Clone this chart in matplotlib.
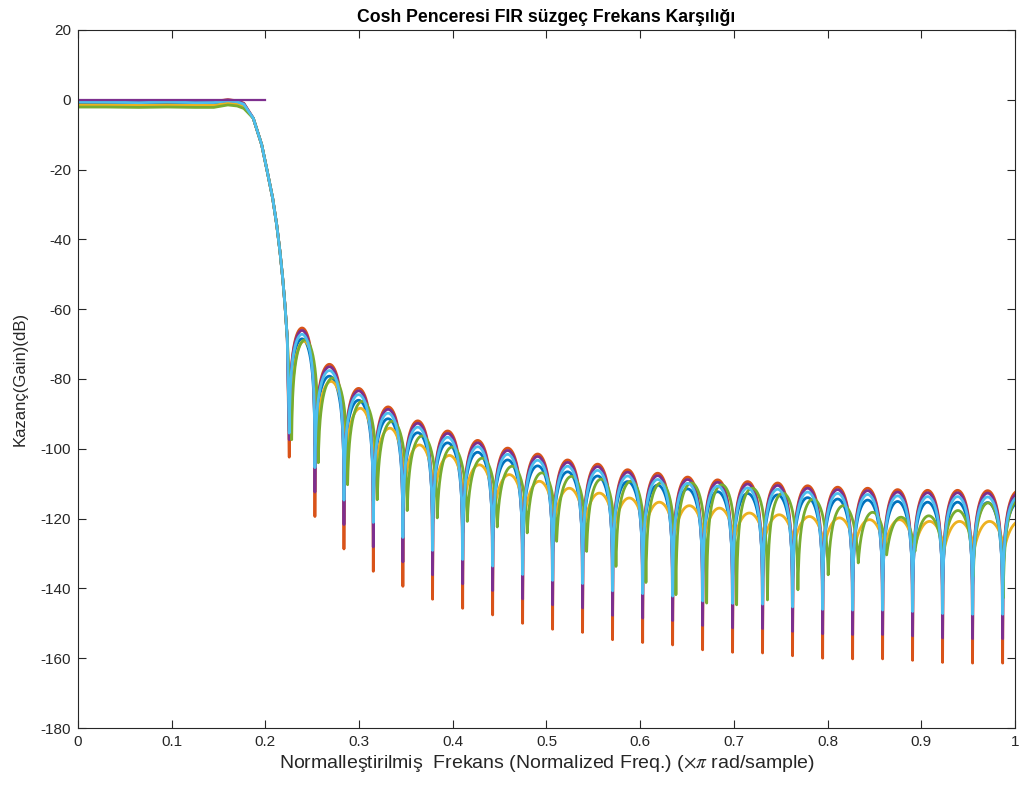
import numpy as np
import matplotlib
matplotlib.use("Agg")
import matplotlib.pyplot as plt

# ---------------- data ----------------
# pass band (normalized freq, dB)
pb_f = [0.0, 0.03, 0.065, 0.095, 0.125, 0.145, 0.16, 0.17, 0.177]
pb_blue   = [-1.0, -1.05, -1.2, -1.0, -1.2, -1.15, -0.6, -0.9, -1.6]
pb_red    = [-0.25, -0.3, -0.55, -0.25, -0.55, -0.45, 0.0, -0.3, -1.0]
pb_yellow = [-1.5, -1.5, -1.6, -1.5, -1.6, -1.6, -1.0, -1.3, -2.0]
pb_purple = [-0.3, -0.35, -0.6, -0.3, -0.6, -0.5, -0.05, -0.35, -1.1]
pb_green  = [-2.1, -2.1, -2.2, -2.1, -2.2, -2.2, -1.5, -1.8, -2.5]
pb_lblue  = [-0.6, -0.65, -0.85, -0.6, -0.85, -0.8, -0.3, -0.6, -1.3]

# transition band (shared by all curves)
tr_f  = [0.1871, 0.1961, 0.2020, 0.2078, 0.2121, 0.2156, 0.2185, 0.2209, 0.2234]
tr_db = [-5.3, -12.9, -20.5, -28.2, -35.8, -43.5, -51.1, -58.7, -68.3]

# stop band nulls (last entry lies just beyond the axis edge)
null_f = [0.2255, 0.2529, 0.2839, 0.3152, 0.3468, 0.3785, 0.4106, 0.4426, 0.4746,
          0.5066, 0.5386, 0.5706, 0.6027, 0.6347, 0.6667, 0.6987, 0.7307, 0.7627,
          0.7948, 0.8268, 0.8588, 0.8908, 0.9228, 0.9548, 0.9869, 1.0189]
null_f_yellow = [0.2275, 0.2549, 0.2859, 0.3172, 0.3488, 0.3805, 0.4126, 0.4446, 0.4766,
                 0.5086, 0.5406, 0.5726, 0.6047, 0.6367, 0.6687, 0.7007, 0.7327, 0.7647,
                 0.7968, 0.8288, 0.8608, 0.8928, 0.9248, 0.9568, 0.9889, 1.0209]
null_f_green = [0.2281, 0.2565, 0.2878, 0.3194, 0.3514, 0.3835, 0.4155, 0.4475, 0.4795,
                0.5109, 0.5429, 0.5742, 0.6062, 0.6382, 0.6710, 0.7030, 0.7359, 0.7684,
                0.8007, 0.8328, 0.8631, 0.8933, 0.9235, 0.9555, 0.9875, 1.0195]

null_blue = [-95.0, -102.2, -109.8, -115.0, -118.5, -121.5, -124.1, -125.6, -128.0, -129.4,
             -129.9, -132.0, -133.0, -134.0, -135.3, -136.0, -136.5, -137.3, -138.0, -138.2,
             -138.2, -138.6, -139.2, -139.4, -139.4, -139.4]
null_red = [-102.4, -119.4, -128.7, -135.1, -139.4, -143.1, -145.7, -147.6, -150.0, -151.7,
            -152.6, -154.7, -155.5, -156.2, -157.6, -158.3, -158.5, -159.3, -160.0, -160.2,
            -160.2, -160.6, -161.2, -161.4, -161.4, -161.4]
null_yellow = [-96.0, -96.6, -103.0, -107.4, -110.6, -113.5, -115.0, -117.3, -119.4, -120.5,
               -122.0, -122.7, -123.7, -124.6, -125.3, -125.6, -126.0, -127.0, -127.5, -128.0,
               -128.4, -128.7, -128.4, -128.4, -128.4, -128.4]
null_purple = [-97.4, -112.4, -121.7, -128.1, -132.4, -136.1, -138.7, -140.6, -143.0, -144.7,
               -145.6, -147.7, -148.5, -149.2, -150.6, -151.3, -151.5, -152.3, -153.0, -153.2,
               -153.2, -153.6, -154.2, -154.4, -154.4, -154.4]
null_green = [-97.4, -104.0, -110.3, -114.6, -117.7, -119.8, -120.8, -122.4, -124.1, -126.5,
              -129.4, -133.7, -138.3, -141.8, -144.2, -144.7, -143.3, -140.4, -136.1, -132.7,
              -130.4, -129.4, -131.8, -136.6, -142.8, -142.8]
null_lblue = [-95.5, -105.4, -114.7, -121.1, -125.4, -129.1, -131.7, -133.6, -136.0, -137.7,
              -138.6, -140.7, -141.5, -142.2, -143.6, -144.3, -144.5, -145.3, -146.0, -146.2,
              -146.2, -146.6, -147.2, -147.4, -147.4, -147.4]

# side lobe peaks (one per lobe, between consecutive nulls)
peak_blue = [-68.5, -79.2, -86.1, -91.4, -95.4, -98.3, -101.0, -103.2, -104.9, -106.6,
             -107.8, -109.4, -110.4, -111.5, -112.3, -112.8, -113.2, -114.0, -114.4, -114.7,
             -115.1, -115.3, -115.3, -115.4, -115.6]
peak_red = [-65.4, -75.8, -82.7, -88.0, -92.0, -94.9, -97.6, -99.8, -101.5, -103.2,
            -104.4, -106.0, -107.0, -108.1, -108.9, -109.4, -109.8, -110.6, -111.0, -111.3,
            -111.7, -111.9, -111.9, -112.0, -112.2]
peak_yellow = [-69.2, -80.7, -88.4, -94.1, -98.9, -101.9, -104.6, -107.4, -109.3, -111.3,
               -112.7, -114.1, -115.3, -116.3, -117.0, -118.4, -118.9, -119.4, -119.8, -120.3,
               -120.3, -120.8, -120.8, -120.8, -120.8]
peak_purple = [-66.1, -76.5, -83.4, -88.7, -92.7, -95.6, -98.3, -100.5, -102.2, -103.9,
               -105.1, -106.7, -107.7, -108.8, -109.6, -110.1, -110.5, -111.3, -111.7, -112.0,
               -112.4, -112.6, -112.6, -112.7, -112.9]
peak_green = [-68.8, -79.7, -86.4, -92.1, -96.3, -99.5, -102.7, -105.0, -106.9, -107.9,
              -108.7, -109.3, -109.8, -109.8, -110.3, -111.3, -112.7, -114.4, -116.3, -118.2,
              -119.6, -119.2, -117.7, -115.5, -114.8]
peak_lblue = [-67.2, -77.6, -84.5, -89.8, -93.8, -96.7, -99.4, -101.6, -103.3, -105.0,
              -106.2, -107.8, -108.8, -109.9, -110.7, -111.2, -111.6, -112.4, -112.8, -113.1,
              -113.5, -113.7, -113.7, -113.8, -114.0]

ideal_f = [0.0, 0.2]
ideal_db = [0.0, 0.0]

x_ticks = [0, 0.1, 0.2, 0.3, 0.4, 0.5, 0.6, 0.7, 0.8, 0.9, 1]
x_tick_labels = ["0", "0.1", "0.2", "0.3", "0.4", "0.5", "0.6", "0.7", "0.8", "0.9", "1"]
y_ticks = [-180, -160, -140, -120, -100, -80, -60, -40, -20, 0, 20]

# ---------------- drawing ----------------
plt.rcParams["font.family"] = ["Liberation Sans", "DejaVu Sans"]
plt.rcParams["mathtext.fontset"] = "stix"
plt.rcParams["axes.unicode_minus"] = False


def lobes(nf, ndb, pdb, n=80):
    xs, ys = [], []
    for k in range(len(pdb)):
        a, b = nf[k], nf[k + 1]
        la, lb = 10 ** (ndb[k] / 20), 10 ** (ndb[k + 1] / 20)
        lp = 10 ** (pdb[k] / 20)
        t = np.linspace(0, 1, n, endpoint=(k == len(pdb) - 1))
        base = (1 - t) * la + t * lb
        amp = base + (lp - 0.5 * (la + lb)) * np.sin(np.pi * t)
        xs.append(a + (b - a) * t)
        ys.append(20 * np.log10(amp))
    return np.concatenate(xs), np.concatenate(ys)


def curve(pb, nf, ndb, pdb):
    lx, ly = lobes(nf, ndb, pdb)
    x = np.concatenate([pb_f, tr_f, lx])
    y = np.concatenate([pb, tr_db, ly])
    return x, y


series = [
    (pb_blue, null_f, null_blue, peak_blue, "#0072BD"),
    (pb_red, null_f, null_red, peak_red, "#D95319"),
    (pb_yellow, null_f_yellow, null_yellow, peak_yellow, "#EDB120"),
    (pb_purple, null_f, null_purple, peak_purple, "#7E2F8E"),
    (pb_green, null_f_green, null_green, peak_green, "#77AC30"),
    (pb_lblue, null_f, null_lblue, peak_lblue, "#4DBEEE"),
]

fig = plt.figure(figsize=(10.19, 7.91), dpi=100)
ax = fig.add_axes([0.0765, 0.0796, 0.9195, 0.8826])

for pb, nf, ndb, pdb, col in series:
    x, y = curve(pb, nf, ndb, pdb)
    ax.plot(x, y, color=col, lw=2.0)

ax.plot(ideal_f, ideal_db, color="#7E2F8E", lw=1.6)

ax.set_xlim(0, 1)
ax.set_ylim(-180, 20)
ax.set_xticks(x_ticks)
ax.set_xticklabels(x_tick_labels)
ax.set_yticks(y_ticks)
ax.tick_params(direction="in", top=True, right=True, length=6, width=0.8,
               colors="#262626", labelsize=11, pad=5)
for s in ax.spines.values():
    s.set_color("#262626")
    s.set_linewidth(0.8)

ax.set_title("Cosh Penceresi FIR süzgeç Frekans Karşılığı", fontsize=12.7,
             fontweight="bold", color="black", pad=6)
ax.set_xlabel("Normalleştirilmiş  Frekans (Normalized Freq.) ($\\times\\pi$ rad/sample)",
              fontsize=14, color="#262626", labelpad=3)
ax.set_ylabel("Kazanç(Gain)(dB)", fontsize=12, color="#262626", labelpad=9)

fig.savefig("out.png", dpi=100, facecolor="white")
